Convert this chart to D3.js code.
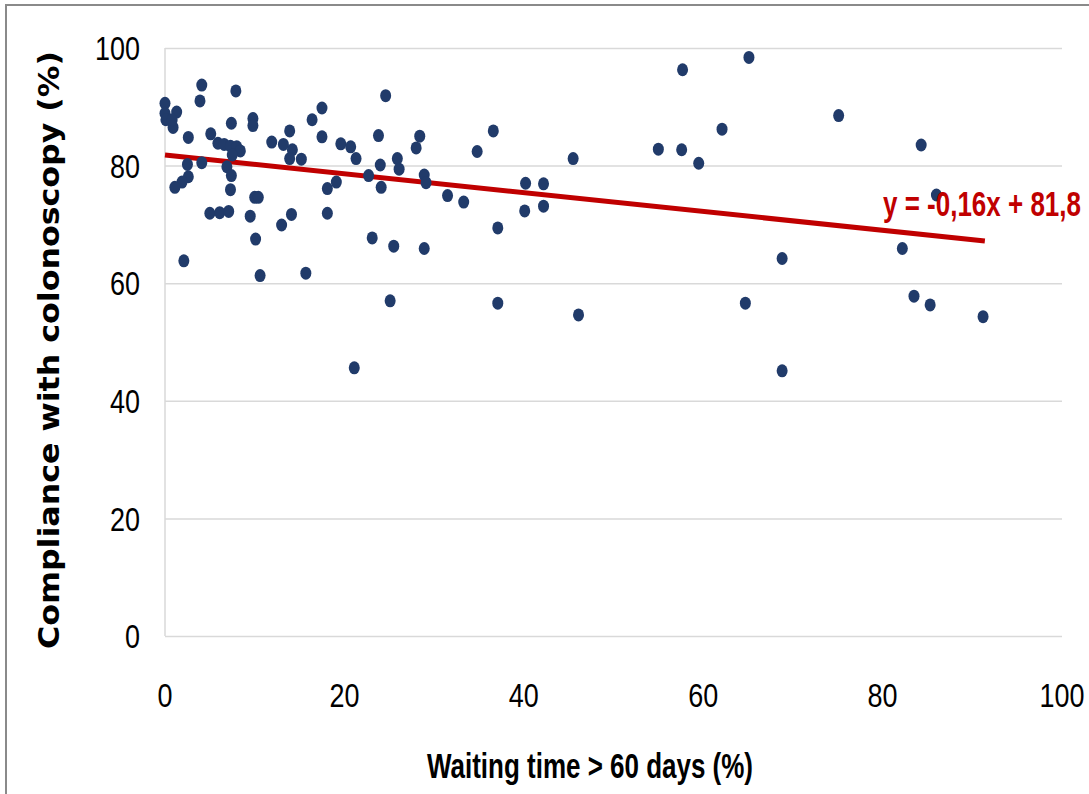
<!DOCTYPE html>
<html>
<head>
<meta charset="utf-8">
<script src="https://cdn.jsdelivr.net/npm/d3@7"></script>
<style>
  html, body { margin: 0; padding: 0; background: #fff; }
  svg { display: block; }
</style>
</head>
<body>
<div id="chart"></div>
<script>
// --- data ---
const waitingPct = [
  0, 0, 0.1, 1.3, 0.9, 0.8, 4.1, 3.9, 7.9, 2.6,
  7.4, 9.8, 9.8, 5.1, 5.9, 6.6, 7.3, 8.0, 8.4, 7.5,
  4.1, 2.5, 6.9, 7.4, 2.6, 1.9, 1.1, 7.3, 10.0, 10.4,
  11.9, 13.2, 13.9, 14.2, 13.9, 15.2, 16.4, 17.5, 17.5, 19.6,
  20.7, 21.3, 24.6, 23.8, 24.0, 22.7, 24.1, 25.9, 26.1, 28.4,
  28.0, 28.9, 29.1, 19.1, 18.1, 31.5, 33.3, 34.8, 36.6, 37.1,
  40.2, 40.1, 42.2, 42.2, 45.5, 55.0, 57.6, 57.7, 59.5, 62.1,
  65.1, 75.1, 84.3, 86.0, 5.0, 6.1, 7.1, 9.5, 10.1, 13.0,
  14.1, 18.1, 23.1, 25.5, 28.9, 2.1, 10.6, 15.7, 25.1, 37.1,
  46.1, 21.1, 64.7, 68.8, 82.2, 83.5, 85.3, 91.2, 68.8
];
const compliancePct = [
  90.6, 88.9, 87.8, 89.1, 86.5, 87.8, 93.7, 91.0, 92.7, 84.8,
  87.2, 88.0, 86.8, 85.4, 83.8, 83.6, 83.3, 83.2, 82.5, 81.8,
  80.5, 80.2, 79.8, 78.3, 78.1, 77.2, 76.3, 75.9, 74.6, 74.6,
  84.0, 83.6, 85.9, 82.7, 81.2, 81.1, 87.8, 89.8, 84.9, 83.7,
  83.2, 81.2, 91.9, 85.1, 80.1, 78.3, 76.3, 81.2, 79.4, 85.0,
  83.0, 78.4, 77.1, 77.2, 76.1, 74.9, 73.8, 82.4, 85.9, 69.4,
  77.0, 72.3, 76.9, 73.1, 81.2, 82.8, 82.7, 96.3, 80.4, 86.2,
  98.4, 88.5, 83.5, 75.0, 71.9, 72.0, 72.2, 71.4, 67.5, 69.9,
  71.7, 71.9, 67.7, 66.3, 65.9, 63.8, 61.3, 61.7, 57.0, 56.6,
  54.6, 45.6, 56.6, 64.2, 65.9, 57.8, 56.3, 54.3, 45.1
];
const xTicks = [0, 20, 40, 60, 80, 100];
const yTicks = [0, 20, 40, 60, 80, 100];
const trendSlope = -0.16;
const trendIntercept = 81.8;
const trendRange = [0, 91.4];

// --- layout ---
const width = 1089, height = 794;
const margin = { top: 48, right: 27, bottom: 158, left: 165 };
const innerWidth = width - margin.left - margin.right;
const innerHeight = height - margin.top - margin.bottom;

const colors = {
  point: "#213b6a",
  trend: "#c00000",
  grid: "#d9d9d9",
  text: "#000",
  frame: "#8a8a8a"
};

const svg = d3.select("#chart").append("svg")
  .attr("width", width)
  .attr("height", height);

// outer frame: only its top and left edges are inside the picture
svg.append("path")
  .attr("d", `M6,${height} V5 H${width}`)
  .attr("fill", "none")
  .attr("stroke", colors.frame)
  .attr("stroke-width", 2);

const g = svg.append("g")
  .attr("transform", `translate(${margin.left},${margin.top})`);

const x = d3.scaleLinear().domain([0, 100]).range([0, innerWidth]);
const y = d3.scaleLinear().domain([0, 100]).range([innerHeight, 0]);

// horizontal gridlines
g.append("g")
  .attr("class", "grid")
  .call(d3.axisLeft(y).tickValues(yTicks).tickSize(-innerWidth).tickFormat(""))
  .call(s => s.select(".domain").remove())
  .selectAll("line")
  .attr("stroke", colors.grid)
  .attr("stroke-width", 1.5);

// vertical axis line
g.append("line")
  .attr("x1", x(0)).attr("x2", x(0))
  .attr("y1", y(0)).attr("y2", y(100))
  .attr("stroke", colors.grid)
  .attr("stroke-width", 1.5);

// tick labels (condensed look via textLength)
const tickFont = "'Liberation Sans', Arial, sans-serif";
const digitW = 15;

g.append("g").selectAll("text")
  .data(yTicks)
  .join("text")
  .attr("x", -25)
  .attr("y", d => y(d))
  .attr("dy", "0.36em")
  .attr("text-anchor", "end")
  .attr("font-family", tickFont)
  .attr("font-size", 34)
  .attr("fill", colors.text)
  .attr("textLength", d => String(d).length * digitW)
  .attr("lengthAdjust", "spacingAndGlyphs")
  .text(d => d);

g.append("g").selectAll("text")
  .data(xTicks)
  .join("text")
  .attr("x", d => x(d))
  .attr("y", innerHeight + 71)
  .attr("text-anchor", "middle")
  .attr("font-family", tickFont)
  .attr("font-size", 34)
  .attr("fill", colors.text)
  .attr("textLength", d => String(d).length * digitW)
  .attr("lengthAdjust", "spacingAndGlyphs")
  .text(d => d);

// trend line
const trend = trendRange.map(v => [v, trendIntercept + trendSlope * v]);
g.append("path")
  .datum(trend)
  .attr("fill", "none")
  .attr("stroke", colors.trend)
  .attr("stroke-width", 5)
  .attr("d", d3.line().x(d => x(d[0])).y(d => y(d[1])));

// points
const pts = waitingPct.map((v, i) => ({ x: v, y: compliancePct[i] }));
g.append("g").selectAll("ellipse")
  .data(pts)
  .join("ellipse")
  .attr("cx", d => x(d.x))
  .attr("cy", d => y(d.y))
  .attr("rx", 5.5)
  .attr("ry", 6.5)
  .attr("fill", colors.point);

// equation label
g.append("text")
  .attr("x", 718)
  .attr("y", 168)
  .attr("font-family", tickFont)
  .attr("font-weight", "bold")
  .attr("font-size", 35)
  .attr("fill", colors.trend)
  .attr("textLength", 198)
  .attr("lengthAdjust", "spacingAndGlyphs")
  .text("y = -0,16x + 81,8");

// axis titles
svg.append("text")
  .attr("x", 590)
  .attr("y", 778)
  .attr("text-anchor", "middle")
  .attr("font-family", tickFont)
  .attr("font-weight", "bold")
  .attr("font-size", 35)
  .attr("fill", colors.text)
  .attr("textLength", 326)
  .attr("lengthAdjust", "spacingAndGlyphs")
  .text("Waiting time > 60 days (%)");

svg.append("text")
  .attr("transform", "translate(59,350) rotate(-90)")
  .attr("text-anchor", "middle")
  .attr("font-family", "'DejaVu Sans', Verdana, sans-serif")
  .attr("font-weight", "bold")
  .attr("font-size", 29)
  .attr("fill", colors.text)
  .attr("textLength", 598)
  .attr("lengthAdjust", "spacingAndGlyphs")
  .text("Compliance with colonoscopy (%)");
</script>
</body>
</html>
